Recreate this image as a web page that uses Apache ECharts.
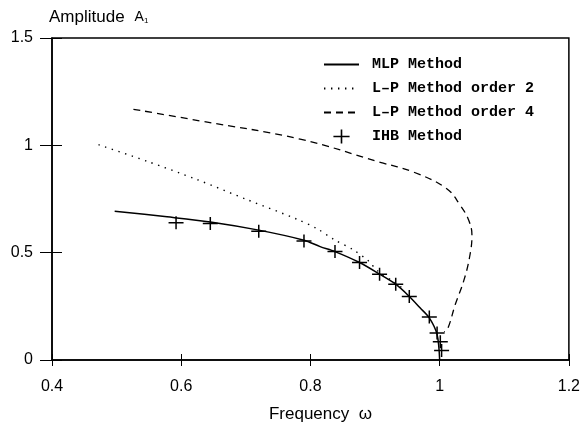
<!DOCTYPE html>
<html>
<head>
<meta charset="utf-8">
<script src="https://cdn.jsdelivr.net/npm/echarts@6/dist/echarts.min.js"></script>
<style>
html,body{margin:0;padding:0;background:#fff;}
#c{width:583px;height:428px;}
</style>
</head>
<body>
<div id="c"></div>
<script>
// ---- data ----
const xTickLabels = ['0.4', '0.6', '0.8', '1', '1.2'];
const yTickLabels = ['0', '0.5', '1', '1.5'];

const mlpW = [0.497, 0.578, 0.645, 0.720, 0.790, 0.815, 0.838, 0.876, 0.907, 0.932, 0.953, 0.970, 0.984, 0.996, 1.000];
const mlpA = [0.693, 0.667, 0.643, 0.605, 0.558, 0.528, 0.505, 0.454, 0.400, 0.353, 0.296, 0.242, 0.196, 0.119, 0.000];

const lp2W = [0.472, 0.547, 0.624, 0.702, 0.779, 0.810, 0.836, 0.867, 0.890, 0.903, 0.930, 0.947];
const lp2A = [1.003, 0.926, 0.841, 0.747, 0.656, 0.612, 0.562, 0.512, 0.461, 0.418, 0.362, 0.325];

const lp4W = [0.526, 0.629, 0.784, 0.908, 0.960, 1.011, 1.032, 1.045, 1.050, 1.046, 1.037, 1.024, 1.013, 1.007];
const lp4A = [1.168, 1.114, 1.029, 0.921, 0.875, 0.798, 0.720, 0.651, 0.581, 0.474, 0.366, 0.257, 0.150, 0.130];

const ihbW = [0.592, 0.645, 0.720, 0.790, 0.838, 0.876, 0.907, 0.932, 0.953, 0.984, 0.996, 1.001, 1.003];
const ihbA = [0.639, 0.636, 0.600, 0.554, 0.505, 0.454, 0.400, 0.353, 0.296, 0.200, 0.126, 0.085, 0.044];

const seriesNames = ['MLP Method', 'L\u2013P Method order 2', 'L\u2013P Method order 4', 'IHB Method'];

// ---- chart ----
const pairs = (xs, ys) => xs.map((x, i) => [x, ys[i]]);
const plusPath = 'path://M13.5,0H16.5V11.5H30V14.5H16.5V26H13.5V14.5H0V11.5H13.5Z';
const sans = 'Liberation Sans';
const fmt = (labels, vals) => v => {
  const i = vals.findIndex(t => Math.abs(t - v) < 1e-6);
  return i >= 0 ? labels[i] : '';
};
const xVals = xTickLabels.map(Number);
const yVals = yTickLabels.map(Number);
const hiddenSym = {color: 'rgba(0,0,0,0)', borderWidth: 0, opacity: 0};

const chart = echarts.init(document.getElementById('c'), null, {renderer: 'canvas'});
chart.setOption({
  animation: false,
  backgroundColor: '#fff',
  grid: {left: 52, right: 14, top: 38, bottom: 66, show: true, borderColor: '#000', borderWidth: 1.5, backgroundColor: 'transparent'},
  legend: {
    orient: 'vertical', left: 318, top: 52,
    itemWidth: 35, itemHeight: 14, itemGap: 9,
    textStyle: {fontFamily: 'Liberation Mono', fontWeight: 'bold', fontSize: 15, color: '#000', padding: [0, 0, 0, 8]},
    data: [
      {name: seriesNames[0], itemStyle: hiddenSym},
      {name: seriesNames[1], itemStyle: hiddenSym},
      {name: seriesNames[2], itemStyle: hiddenSym},
      {name: seriesNames[3], icon: plusPath}
    ]
  },
  graphic: [{
    type: 'text', left: 49, top: 9,
    style: {
      text: '{n|Amplitude}{a|A}{s|1}',
      rich: {
        n: {fontFamily: sans, fontSize: 17, fill: '#000', padding: [0, 10, 0, 0]},
        a: {fontFamily: sans, fontSize: 14, fill: '#000', padding: [0, 0, 0, 0]},
        s: {fontFamily: sans, fontSize: 8, fill: '#000', padding: [6, 0, 0, 0]}
      }
    }
  }],
  xAxis: [{
    type: 'value', min: 0.4, max: 1.2, interval: 0.2,
    name: 'Frequency  \u03c9', nameLocation: 'middle', nameGap: 46,
    nameTextStyle: {fontFamily: sans, fontSize: 17, color: '#000', padding: [0, 0, 0, 20]},
    axisLine: {show: true, lineStyle: {color: '#000', width: 1.5}},
    axisTick: {show: true, inside: false, length: 6, lineStyle: {color: '#000', width: 1}},
    axisLabel: {fontFamily: sans, fontSize: 16, color: '#000', margin: 19, formatter: fmt(xTickLabels, xVals)},
    splitLine: {show: false}
  }, {
    type: 'value', min: 0.4, max: 1.2, interval: 0.2, position: 'bottom',
    axisLine: {show: false},
    axisTick: {show: true, inside: true, length: 6, lineStyle: {color: '#000', width: 1}},
    axisLabel: {show: false}, splitLine: {show: false}
  }],
  yAxis: [{
    type: 'value', min: 0, max: 1.5, interval: 0.5,
    axisLine: {show: true, lineStyle: {color: '#000', width: 1.5}},
    axisTick: {show: true, inside: false, length: 12, lineStyle: {color: '#000', width: 1}},
    axisLabel: {fontFamily: sans, fontSize: 16, color: '#000', margin: 19, formatter: fmt(yTickLabels, yVals)},
    splitLine: {show: false}
  }, {
    type: 'value', min: 0, max: 1.5, interval: 0.5, position: 'left', offset: 0,
    axisLine: {show: false},
    axisTick: {show: true, inside: true, length: 10, lineStyle: {color: '#000', width: 1}},
    axisLabel: {show: false}, splitLine: {show: false}
  }],
  series: [{
    name: seriesNames[0], type: 'line', symbol: 'none', smooth: 0.3,
    lineStyle: {color: '#000', width: 1.5},
    itemStyle: {color: '#000'},
    data: pairs(mlpW, mlpA)
  }, {
    name: seriesNames[1], type: 'line', symbol: 'none', smooth: 0.3,
    lineStyle: {color: '#000', width: 1.4, type: [1.4, 5.6]},
    itemStyle: {color: '#000'},
    data: pairs(lp2W, lp2A)
  }, {
    name: seriesNames[2], type: 'line', symbol: 'none', smooth: 0.4,
    lineStyle: {color: '#000', width: 1.3, type: [7, 5]},
    itemStyle: {color: '#000'},
    data: pairs(lp4W, lp4A)
  }, {
    name: seriesNames[3], type: 'scatter', symbol: plusPath, symbolSize: [15, 13],
    itemStyle: {color: '#000', opacity: 1},
    data: pairs(ihbW, ihbA)
  }]
});
</script>
</body>
</html>
